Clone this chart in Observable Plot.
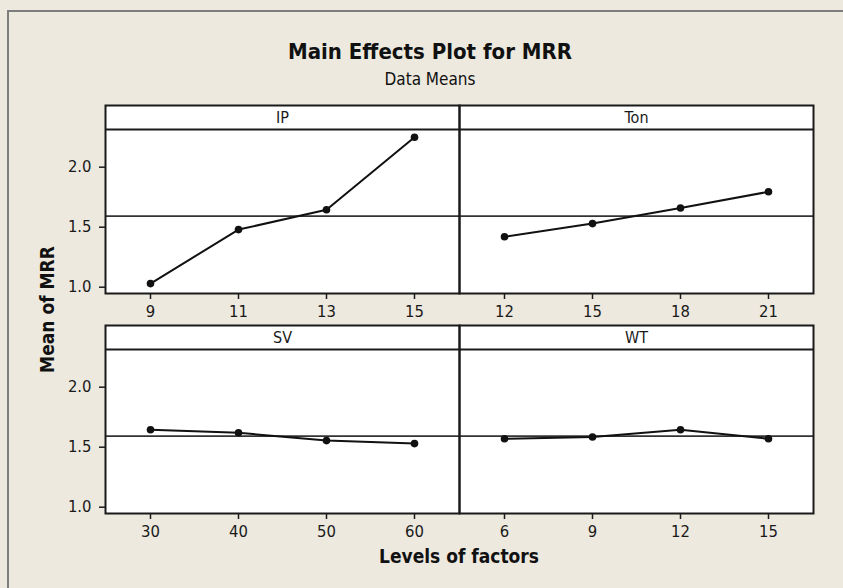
<!DOCTYPE html>
<html>
<head>
<meta charset="utf-8">
<script src="https://cdn.jsdelivr.net/npm/d3@7"></script>
<script src="https://cdn.jsdelivr.net/npm/@observablehq/plot@0.6"></script>
<style>
  html, body { margin: 0; padding: 0; background: #EDE9DF; }
  #wrap { position: relative; width: 843px; height: 588px; overflow: hidden; background: #EDE9DF;
          font-family: "DejaVu Sans Condensed", "DejaVu Sans", sans-serif; font-stretch: condensed; color: #111; }
  #border { position: absolute; left: 7px; top: 10px; width: 900px; height: 700px;
            border-top: 2px solid #7d7d7d; border-left: 2px solid #7d7d7d; }
  .lbl { position: absolute; text-align: center; white-space: nowrap; }
  #title { left: 130px; width: 600px; top: 41px; font-size: 22px; line-height: 22px; font-weight: bold; }
  #subtitle { left: 130px; width: 600px; top: 71px; font-size: 17px; line-height: 17px; }
  #xlabel { left: 309px; width: 300px; top: 547px; font-size: 19px; line-height: 19px; font-weight: bold; }
  #ylabel { left: -53px; width: 200px; top: 300px; font-size: 19px; line-height: 19px; font-weight: bold;
            transform: rotate(-90deg); transform-origin: 50% 50%; }
  #chart { position: absolute; left: 0; top: 0; }
</style>
</head>
<body>
<div id="wrap">
  <div id="border"></div>
  <div id="chart"></div>
  <div class="lbl" id="title">Main Effects Plot for MRR</div>
  <div class="lbl" id="subtitle">Data Means</div>
  <div class="lbl" id="xlabel">Levels of factors</div>
  <div class="lbl" id="ylabel">Mean of MRR</div>
</div>
<script>
// ---- data ----
const factors = ["IP", "Ton", "SV", "WT"];
const levelsIP  = [9, 11, 13, 15];
const levelsTon = [12, 15, 18, 21];
const levelsSV  = [30, 40, 50, 60];
const levelsWT  = [6, 9, 12, 15];
const meansIP   = [1.03, 1.48, 1.645, 2.25];
const meansTon  = [1.42, 1.53, 1.66, 1.795];
const meansSV   = [1.645, 1.62, 1.555, 1.53];
const meansWT   = [1.57, 1.585, 1.645, 1.57];
const grandMean = 1.593;
const yTicks = [1.0, 1.5, 2.0];
const panelCol = [0, 1, 0, 1];
const panelRow = [0, 0, 1, 1];

const levelSets = [levelsIP, levelsTon, levelsSV, levelsWT];
const meanSets = [meansIP, meansTon, meansSV, meansWT];

const rows = [];
factors.forEach((f, k) => {
  levelSets[k].forEach((lv, i) => {
    rows.push({factor: f, col: panelCol[k], row: panelRow[k], i, level: lv, mean: meanSets[k][i]});
  });
});
const panels = factors.map((f, k) => ({factor: f, col: panelCol[k], row: panelRow[k]}));

// y domain: data area plus the strip header on top
const yMin = 0.9475, yStrip = 2.314, yMax = 2.514;
const pxPerUnit = 120;

const font = '"DejaVu Sans Condensed", "DejaVu Sans", sans-serif';
const ink = "#1a1a1a";

const chart = Plot.plot({
  width: 843,
  height: 588,
  marginLeft: 104,
  marginRight: 30,
  marginTop: 105,
  marginBottom: 75,
  style: {background: "transparent", fontFamily: font, fontSize: "16px", color: ink, fontStretch: "condensed"},
  fx: {domain: [0, 1], paddingInner: 0, paddingOuter: 0, axis: null},
  fy: {domain: [0, 1], paddingInner: 32 / 220, paddingOuter: 0, axis: null},
  x: {type: "point", domain: [0, 1, 2, 3], padding: 0.5, axis: null},
  y: {domain: [yMin, yMax]},
  marks: [
    Plot.frame({fill: "white"}),
    Plot.ruleY([grandMean], {stroke: "#333", strokeWidth: 1.8}),
    Plot.ruleY([yStrip], {stroke: ink, strokeWidth: 2}),
    Plot.text(panels, {fx: "col", fy: "row", text: "factor", frameAnchor: "top", lineAnchor: "middle", dy: 12, fontSize: 16, fill: ink}),
    Plot.line(rows, {x: "i", y: "mean", fx: "col", fy: "row", z: "factor", stroke: "#111", strokeWidth: 2}),
    Plot.dot(rows, {x: "i", y: "mean", fx: "col", fy: "row", r: 3.8, fill: "#111", stroke: "none"}),
    Plot.ruleX(rows, {x: "i", fx: "col", fy: "row", y1: yMin, y2: yMin - 6 / pxPerUnit, stroke: ink, strokeWidth: 1.5}),
    Plot.text(rows, {x: "i", fx: "col", fy: "row", text: d => String(d.level), frameAnchor: "bottom", lineAnchor: "top", dy: 12, fontSize: 16.5, fill: ink}),
    Plot.axisY({ticks: yTicks, tickFormat: d => d.toFixed(1), tickSize: 6, tickPadding: 8, fontSize: 16.5, label: null, stroke: ink, strokeWidth: 1.5, fill: ink}),
    Plot.frame({stroke: ink, strokeWidth: 2})
  ]
});
document.getElementById("chart").appendChild(chart);
</script>
</body>
</html>
